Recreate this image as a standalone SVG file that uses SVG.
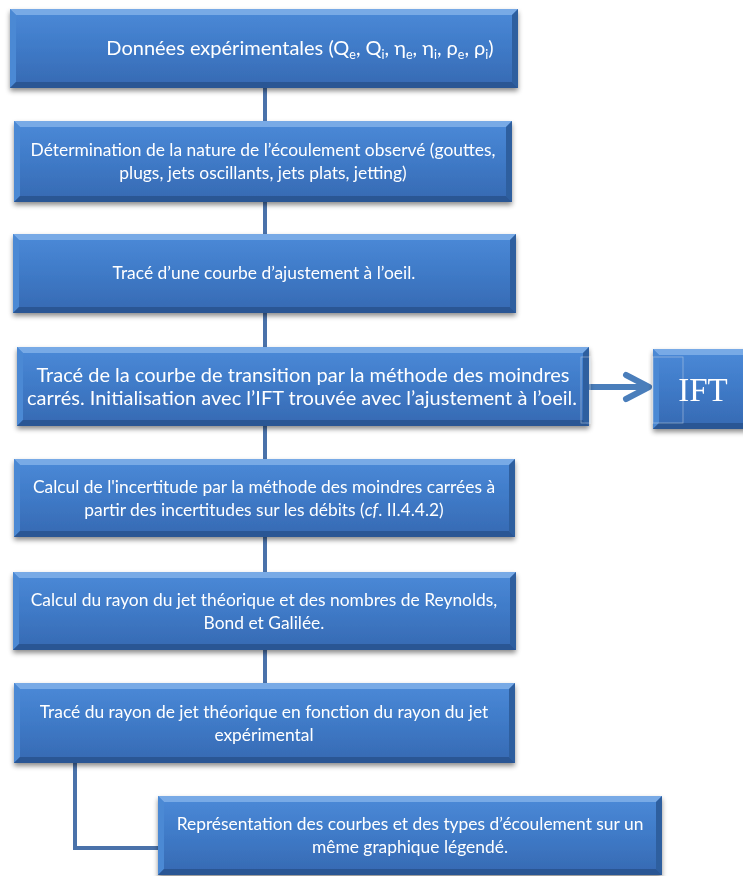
<svg xmlns="http://www.w3.org/2000/svg" width="743" height="876" viewBox="0 0 743 876">
<defs>
  <linearGradient id="fill" x1="0" y1="0" x2="0" y2="1">
    <stop offset="0" stop-color="#4b8ad8"/>
    <stop offset="0.5" stop-color="#3f7ac7"/>
    <stop offset="1" stop-color="#3669b2"/>
  </linearGradient>
  <filter id="shadow" x="-5%" y="-10%" width="110%" height="130%">
    <feDropShadow dx="0" dy="3" stdDeviation="2.5" flood-color="#000" flood-opacity="0.45"/>
  </filter>
</defs>
<style>
  .box { fill: url(#fill); }
  .bt { fill: #78aae6; }
  .bl { fill: #4c89d4; }
  .br { fill: #2f5e9f; }
  .bb { fill: #2b5694; }
  .txt { fill: #ffffff; font-family: Lato, "Open Sans", sans-serif; font-size: 17.4px; text-anchor: middle; }
  .big { font-size: 20px; }
  .sub { font-size: 12.5px; }
  .ift { fill: #ffffff; font-family: "Liberation Serif", serif; font-size: 33px; text-anchor: middle; }
  .conn { fill: none; stroke: #4a72aa; stroke-width: 4; }
  .arrow { fill: none; stroke: #4a7ebb; stroke-width: 6; stroke-linecap: round; stroke-linejoin: round; }
  .faint { fill: none; stroke: #c8d4e4; stroke-width: 0.8; opacity: 0.6; }
  .node { filter: url(#shadow); }
</style>
<rect width="743" height="876" fill="#ffffff"/>

<g id="connectors">
  <line class="conn" x1="265" y1="88" x2="265" y2="121"/>
  <line class="conn" x1="265" y1="202" x2="265" y2="234"/>
  <line class="conn" x1="265" y1="313" x2="265" y2="347"/>
  <line class="conn" x1="265" y1="426" x2="265" y2="459"/>
  <line class="conn" x1="265" y1="537" x2="265" y2="572"/>
  <line class="conn" x1="265" y1="650" x2="265" y2="683"/>
  <path class="conn" d="M75 763 V848 H158"/>
  <path class="arrow" d="M590 387 H648 M626 375 L649 387 L626 399"/>
</g>

<g id="n1" class="node">
  <rect class="box" x="10" y="9" width="508" height="79"/>
  <polygon class="bt" points="10,9 518,9 512,15 16,15"/>
  <polygon class="bl" points="10,9 16,15 16,82 10,88"/>
  <polygon class="br" points="518,9 518,88 512,82 512,15"/>
  <polygon class="bb" points="10,88 518,88 512,82 16,82"/>
  <text class="txt big" x="300" y="55">Données expérimentales (Q<tspan class="sub" dy="4">e</tspan><tspan dy="-4">, Q</tspan><tspan class="sub" dy="4">i</tspan><tspan dy="-4">, η</tspan><tspan class="sub" dy="4">e</tspan><tspan dy="-4">, η</tspan><tspan class="sub" dy="4">i</tspan><tspan dy="-4">, ρ</tspan><tspan class="sub" dy="4">e</tspan><tspan dy="-4">, ρ</tspan><tspan class="sub" dy="4">i</tspan><tspan dy="-4">)</tspan></text>
</g>

<g id="n2" class="node">
  <rect class="box" x="14" y="121" width="498" height="81"/>
  <polygon class="bt" points="14,121 512,121 506,127 20,127"/>
  <polygon class="bl" points="14,121 20,127 20,196 14,202"/>
  <polygon class="br" points="512,121 512,202 506,196 506,127"/>
  <polygon class="bb" points="14,202 512,202 506,196 20,196"/>
  <text class="txt" x="263" y="156">Détermination de la nature de l’écoulement observé (gouttes,</text>
  <text class="txt" x="263" y="179">plugs, jets oscillants, jets plats, jetting)</text>
</g>

<g id="n3" class="node">
  <rect class="box" x="13" y="234" width="503" height="79"/>
  <polygon class="bt" points="13,234 516,234 510,240 19,240"/>
  <polygon class="bl" points="13,234 19,240 19,307 13,313"/>
  <polygon class="br" points="516,234 516,313 510,307 510,240"/>
  <polygon class="bb" points="13,313 516,313 510,307 19,307"/>
  <text class="txt" x="264" y="279">Tracé d’une courbe d’ajustement à l’oeil.</text>
</g>

<g id="n4" class="node">
  <rect class="box" x="17" y="347" width="572" height="79"/>
  <polygon class="bt" points="17,347 589,347 583,353 23,353"/>
  <polygon class="bl" points="17,347 23,353 23,420 17,426"/>
  <polygon class="br" points="589,347 589,426 583,420 583,353"/>
  <polygon class="bb" points="17,426 589,426 583,420 23,420"/>
  <rect class="faint" x="581" y="357" width="9" height="66"/>
  <text class="txt big" x="303" y="382">Tracé de la courbe de transition par la méthode des moindres</text>
  <text class="txt big" x="302" y="405">carrés. Initialisation avec l’IFT trouvée avec l’ajustement à l’oeil.</text>
</g>

<g id="ift" class="node">
  <rect class="box" x="653" y="349" width="100" height="80"/>
  <polygon class="bt" points="653,349 753,349 747,355 659,355"/>
  <polygon class="bl" points="653,349 659,355 659,423 653,429"/>
  <polygon class="bb" points="653,429 753,429 747,423 659,423"/>
  <rect class="faint" x="653" y="357" width="30" height="66"/>
  <text class="ift" x="703" y="401">IFT</text>
</g>

<g id="n5" class="node">
  <rect class="box" x="14" y="459" width="501" height="78"/>
  <polygon class="bt" points="14,459 515,459 509,465 20,465"/>
  <polygon class="bl" points="14,459 20,465 20,531 14,537"/>
  <polygon class="br" points="515,459 515,537 509,531 509,465"/>
  <polygon class="bb" points="14,537 515,537 509,531 20,531"/>
  <text class="txt" x="264" y="493">Calcul de l'incertitude par la méthode des moindres carrées à</text>
  <text class="txt" x="264" y="516">partir des incertitudes sur les débits (<tspan font-style="italic">cf</tspan>. II.4.4.2)</text>
</g>

<g id="n6" class="node">
  <rect class="box" x="13" y="572" width="503" height="78"/>
  <polygon class="bt" points="13,572 516,572 510,578 19,578"/>
  <polygon class="bl" points="13,572 19,578 19,644 13,650"/>
  <polygon class="br" points="516,572 516,650 510,644 510,578"/>
  <polygon class="bb" points="13,650 516,650 510,644 19,644"/>
  <text class="txt" x="264" y="606">Calcul du rayon du jet théorique et des nombres de Reynolds,</text>
  <text class="txt" x="264" y="629">Bond et Galilée.</text>
</g>

<g id="n7" class="node">
  <rect class="box" x="14" y="683" width="501" height="80"/>
  <polygon class="bt" points="14,683 515,683 509,689 20,689"/>
  <polygon class="bl" points="14,683 20,689 20,757 14,763"/>
  <polygon class="br" points="515,683 515,763 509,757 509,689"/>
  <polygon class="bb" points="14,763 515,763 509,757 20,757"/>
  <text class="txt" x="264" y="718">Tracé du rayon de jet théorique en fonction du rayon du jet</text>
  <text class="txt" x="264" y="741">expérimental</text>
</g>

<g id="n8" class="node">
  <rect class="box" x="158" y="796" width="504" height="79"/>
  <polygon class="bt" points="158,796 662,796 656,802 164,802"/>
  <polygon class="bl" points="158,796 164,802 164,869 158,875"/>
  <polygon class="br" points="662,796 662,875 656,869 656,802"/>
  <polygon class="bb" points="158,875 662,875 656,869 164,869"/>
  <text class="txt" x="410" y="830">Représentation des courbes et des types d’écoulement sur un</text>
  <text class="txt" x="410" y="853">même graphique légendé.</text>
</g>
</svg>
